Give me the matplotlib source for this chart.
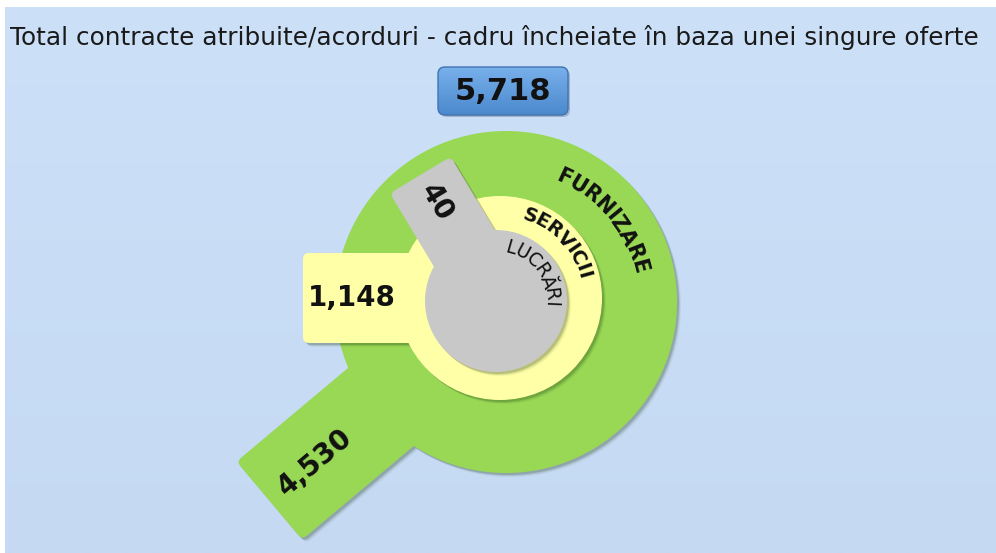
import numpy as np
import matplotlib
matplotlib.use("Agg")
import matplotlib.pyplot as plt
from matplotlib.path import Path
from matplotlib.patches import PathPatch, FancyBboxPatch
from matplotlib.transforms import Affine2D
from matplotlib.textpath import TextToPath
from matplotlib.font_manager import FontProperties

# data
title = "Total contracte atribuite/acorduri - cadru încheiate în baza unei singure oferte"
categories = ["FURNIZARE", "SERVICII", "LUCRĂRI"]
counts = [4530, 1148, 40]
total = sum(counts)

# layout, in pixels (y grows downward)
ring_cx = [506, 500, 496]
ring_cy = [302, 298, 301]
ring_r = [171, 102, 71]
tab_ang = [220, 180, 121]      # direction of the tab, degrees on screen
tab_len = [309, 197, 147]
tab_w = [102, 90, 71]
ring_colors = ['#98D855', '#FFFFA8', '#C8C8C8']
value_dist = [250, 148, 115]
label_r = [137, 87, 55]
label_mid = [40, 44, 37]
label_fs = [15, 14, 13.5]
label_weight = ['bold', 'bold', 'normal']

DPI = 100
PX = DPI / 72.0
t2p = TextToPath()

fig = plt.figure(figsize=(9.96, 5.53), dpi=DPI)
ax = fig.add_axes([0, 0, 1, 1])
ax.set_xlim(0, 996)
ax.set_ylim(553, 0)
ax.axis('off')

# background gradient panel
grad = np.linspace(0, 1, 256)[:, None]
top = np.array([204, 225, 248]) / 255
bot = np.array([197, 217, 243]) / 255
img = top + (bot - top) * grad[..., None]
ax.imshow(img, extent=[5, 996, 553, 7], aspect='auto', zorder=0)


def shape_path(cx, cy, r, ang, length, width, corner=6):
    box = FancyBboxPatch((0, -width / 2), length, width,
                         boxstyle="round,pad=0,rounding_size=%g" % corner)
    rect = box.get_path()
    rect = Affine2D().rotate_deg(-ang).translate(cx, cy).transform_path(rect)
    circ = Path.circle((cx, cy), r)
    return Path.make_compound_path(circ, rect)


def arc_text(s, cx, cy, r, mid_deg, fs, weight, z):
    fp = FontProperties(family='DejaVu Sans', size=fs, weight=weight)
    widths = [t2p.get_text_width_height_descent(ch, fp, ismath=False)[0] * PX for ch in s]
    a = np.radians(mid_deg) + sum(widths) / 2 / r
    for ch, w in zip(s, widths):
        ac = a - w / 2 / r
        ax.text(cx + r * np.cos(ac), cy - r * np.sin(ac), ch,
                rotation=np.degrees(ac) - 90, rotation_mode='anchor',
                ha='center', va='center', fontproperties=fp,
                color='#111111', zorder=z)
        a -= w / r


for i in range(3):
    p = shape_path(ring_cx[i], ring_cy[i], ring_r[i], tab_ang[i], tab_len[i], tab_w[i])
    z = 2 + i * 3
    # soft shadow
    for off, al in [(4, 0.06), (3, 0.10), (2, 0.18)]:
        ax.add_patch(PathPatch(p, transform=Affine2D().translate(off, off) + ax.transData,
                               fc=(0.1, 0.2, 0.05, al), ec='none', zorder=z))
    ax.add_patch(PathPatch(p, fc=ring_colors[i], ec='none', zorder=z + 0.5))

    arc_text(categories[i], ring_cx[i], ring_cy[i], label_r[i], label_mid[i],
             label_fs[i], label_weight[i], z + 1)

    a = np.radians(tab_ang[i])
    ax.text(ring_cx[i] + value_dist[i] * np.cos(a), ring_cy[i] - value_dist[i] * np.sin(a),
            f"{counts[i]:,}", rotation=tab_ang[i] - 180, rotation_mode='anchor',
            ha='center', va='center', fontsize=20, fontweight='bold',
            color='#111111', zorder=z + 1)

# title
ax.text(10, 38, title, fontsize=17.8, ha='left', va='center', color='#1a1a1a', zorder=20)

# total box
bx, by, bw, bh = 438, 67, 130, 48
sh = FancyBboxPatch((bx + 2, by + 2), bw, bh, boxstyle="round,pad=0,rounding_size=7",
                    fc=(0, 0, 0.1, 0.2), ec='none', zorder=20)
ax.add_patch(sh)
box = FancyBboxPatch((bx, by), bw, bh, boxstyle="round,pad=0,rounding_size=7",
                     fc='none', ec='#3F74B0', lw=1, zorder=22)
ax.add_patch(box)
g = np.linspace(0, 1, 64)[:, None]
btop = np.array([120, 176, 235]) / 255
bbot = np.array([75, 137, 205]) / 255
bimg = btop + (bbot - btop) * g[..., None]
im = ax.imshow(bimg, extent=[bx, bx + bw, by + bh, by], aspect='auto', zorder=21)
im.set_clip_path(box)
ax.text(bx + bw / 2, by + bh / 2 + 1, f"{total:,}", fontsize=22, fontweight='bold',
        ha='center', va='center', color='#111111', zorder=23)

fig.savefig('out.png', dpi=DPI)
